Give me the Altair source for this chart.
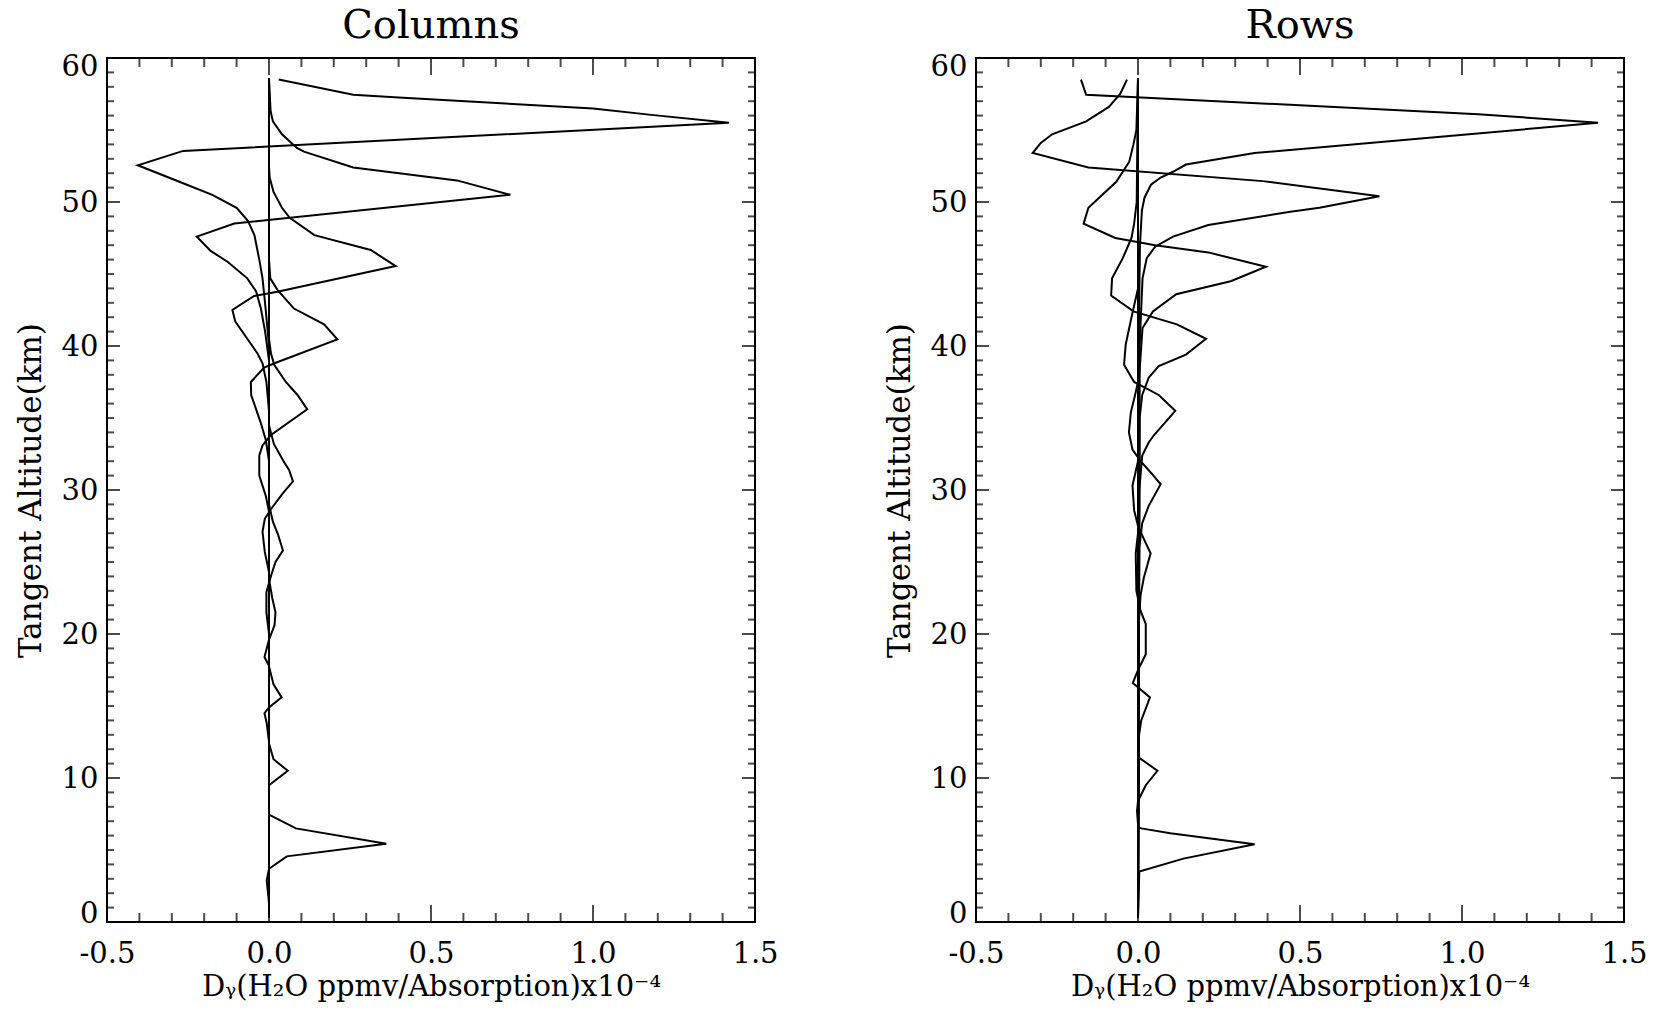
import altair as alt
import pandas as pd

FONT = "DejaVu Serif"

# ---------------- data: (tangent altitude km, D_y value x1e-4) ----------------
# Columns panel
COL_A = [(58.5, 0.03), (57.45, 0.26), (57.25, 0.40), (56.5, 1.00), (56.05, 1.18), (55.5, 1.42),
         (53.55, -0.265), (52.55, -0.405), (51.3, -0.265), (50.5, -0.175), (49.6, -0.10),
         (48.7, -0.065), (47.7, -0.045), (46.0, -0.03), (44.7, -0.02), (42.5, -0.01),
         (40.0, 0.0), (0.3, 0.0)]
COL_B = [(58.6, 0.0), (56.3, 0.005), (55.6, 0.012), (54.7, 0.04), (53.75, 0.086), (53.5, 0.108),
         (52.4, 0.26), (51.5, 0.58), (50.5, 0.745), (48.5, -0.107), (47.6, -0.223), (46.6, -0.18),
         (45.85, -0.128), (44.7, -0.067), (43.8, -0.04), (42.6, -0.025), (41.0, -0.012),
         (39.0, 0.0), (0.3, 0.0)]
COL_C = [(58.6, 0.0), (52.5, 0.0), (51.7, 0.002), (50.7, 0.014), (49.6, 0.04), (48.9, 0.064),
         (47.7, 0.14), (46.67, 0.314), (45.55, 0.391), (43.77, 0.026), (43.47, -0.046),
         (42.5, -0.113), (41.7, -0.104), (40.5, -0.067), (39.5, -0.036), (38.8, -0.02),
         (37.5, -0.008), (35.5, 0.0), (0.3, 0.0)]
COL_D = [(58.6, 0.0), (46.0, 0.0), (44.7, 0.004), (43.9, 0.026), (42.6, 0.077), (41.5, 0.17),
         (40.46, 0.211), (38.84, 0.021), (38.5, -0.015), (37.5, -0.056), (36.6, -0.055),
         (34.7, -0.026), (33.5, -0.01), (32.0, 0.0), (0.3, 0.0)]
COL_E = [(58.6, 0.0), (40.5, 0.0), (39.5, 0.006), (38.7, 0.016), (37.5, 0.052), (36.6, 0.088),
         (35.6, 0.118), (33.8, 0.005), (33.1, -0.02), (32.4, -0.03), (31.0, -0.03),
         (29.6, -0.01), (28.5, 0.0), (0.3, 0.0)]
COL_F = [(58.6, 0.0), (34.5, 0.0), (33.2, 0.015), (32.0, 0.045), (31.4, 0.062), (30.6, 0.074),
         (29.7, 0.04), (28.7, 0.007), (28.0, -0.013), (27.1, -0.02), (25.7, -0.013),
         (24.3, 0.0), (0.3, 0.0)]
COL_G = [(58.6, 0.0), (29.0, 0.0), (27.8, 0.012), (26.9, 0.028), (25.8, 0.043), (25.0, 0.02),
         (24.1, 0.007), (22.9, -0.008), (21.5, -0.008), (20.0, 0.0), (0.3, 0.0)]
COL_H = [(58.6, 0.0), (23.8, 0.0), (22.5, 0.01), (21.5, 0.02), (20.6, 0.017), (19.6, 0.0),
         (18.4, -0.014), (17.8, 0.0), (0.3, 0.0)]
COL_I = [(58.6, 0.0), (17.75, 0.0), (16.5, 0.014), (15.6, 0.039), (14.9, 0.0), (14.5, -0.014),
         (13.8, -0.007), (12.5, 0.0), (0.3, 0.0)]
COL_J = [(58.6, 0.0), (12.4, 0.0), (11.3, 0.014), (10.5, 0.058), (9.5, 0.0), (0.3, 0.0)]
COL_K = [(58.6, 0.0), (7.45, 0.0), (6.5, 0.083), (5.44, 0.362), (4.56, 0.055), (3.7, 0.0),
         (2.9, -0.007), (1.3, 0.0), (0.3, 0.0)]

# Rows panel
ROW_A = [(58.5, -0.176), (57.45, -0.16), (56.1, 1.05), (55.5, 1.42), (53.4, 0.36), (52.6, 0.148),
         (52.1, 0.108), (51.7, 0.07), (51.2, 0.04), (50.3, 0.02), (49.4, 0.012), (47.0, 0.006),
         (40.0, 0.002), (0.3, 0.0)]
ROW_B = [(58.5, -0.034), (57.5, -0.055), (56.6, -0.09), (55.6, -0.16), (54.7, -0.265),
         (54.1, -0.30), (53.4, -0.325), (52.4, -0.153), (51.45, 0.385), (50.4, 0.745),
         (49.6, 0.56), (49.3, 0.465), (48.4, 0.217), (47.6, 0.108), (46.9, 0.053), (46.1, 0.027),
         (44.7, 0.014), (40.0, 0.005), (0.3, 0.0)]
ROW_C = [(58.6, 0.0), (55.0, -0.005), (54.0, -0.014), (52.8, -0.027), (52.1, -0.047),
         (51.4, -0.067), (50.3, -0.12), (49.6, -0.153), (48.5, -0.168), (47.5, -0.07),
         (47.0, 0.053), (46.5, 0.217), (45.5, 0.395), (44.5, 0.286), (43.6, 0.118), (42.4, 0.046),
         (41.25, 0.014), (38.0, 0.004), (0.3, 0.0)]
ROW_D = [(58.6, 0.0), (50.0, -0.004), (48.5, -0.012), (47.5, -0.02), (46.1, -0.047),
         (44.7, -0.08), (43.5, -0.083), (42.4, -0.014), (41.5, 0.12), (40.5, 0.21), (39.4, 0.148),
         (38.6, 0.064), (37.8, 0.033), (36.6, 0.013), (35.0, 0.005), (0.3, 0.0)]
ROW_E = [(58.6, 0.0), (44.0, 0.0), (42.0, -0.02), (40.1, -0.038), (38.7, -0.043), (37.5, -0.012),
         (36.6, 0.064), (35.5, 0.115), (33.8, 0.049), (33.3, 0.033), (32.4, 0.013), (30.0, 0.004),
         (0.3, 0.0)]
ROW_F = [(58.6, 0.0), (37.5, 0.0), (36.5, -0.01), (35.4, -0.022), (34.0, -0.028), (32.8, -0.017),
         (32.0, 0.008), (31.2, 0.04), (30.4, 0.07), (28.9, 0.033), (27.7, 0.013), (26.0, 0.004),
         (0.3, 0.0)]
ROW_G = [(58.6, 0.0), (32.0, 0.0), (30.3, -0.017), (28.6, -0.012), (27.5, 0.0), (26.5, 0.02),
         (25.6, 0.039), (23.9, 0.018), (22.7, 0.008), (21.0, 0.003), (0.3, 0.0)]
ROW_H = [(58.6, 0.0), (27.0, 0.0), (25.6, -0.007), (23.0, -0.005), (21.6, 0.008), (20.7, 0.024),
         (18.6, 0.024), (17.5, 0.0), (0.3, 0.0)]
ROW_I = [(58.6, 0.0), (17.5, 0.0), (16.6, -0.016), (15.6, 0.037), (14.0, 0.01), (12.5, 0.0),
         (0.3, 0.0)]
ROW_J = [(58.6, 0.0), (12.5, 0.0), (11.4, 0.004), (10.5, 0.06), (9.5, 0.024), (8.4, 0.0),
         (7.7, -0.003), (6.8, 0.0), (0.3, 0.0)]
ROW_K = [(58.6, 0.0), (6.6, 0.0), (6.5, 0.01), (6.16, 0.1), (5.4, 0.36), (4.4, 0.14),
         (3.5, 0.004), (0.3, 0.0)]

COLUMN_CURVES = {"A": COL_A, "B": COL_B, "C": COL_C, "D": COL_D, "E": COL_E, "F": COL_F,
                 "G": COL_G, "H": COL_H, "I": COL_I, "J": COL_J, "K": COL_K}
ROW_CURVES = {"A": ROW_A, "B": ROW_B, "C": ROW_C, "D": ROW_D, "E": ROW_E, "F": ROW_F,
              "G": ROW_G, "H": ROW_H, "I": ROW_I, "J": ROW_J, "K": ROW_K}

PANEL_TITLES = ["Columns", "Rows"]
X_TITLE = "D\u1d67(H\u2082O ppmv/Absorption)x10\u207b\u2074"
Y_TITLE = "Tangent Altitude(km)"

X_DOMAIN = [-0.5, 1.5]
Y_DOMAIN = [0, 60]
X_MAJOR = [-0.5, 0.0, 0.5, 1.0, 1.5]
X_MINOR = [-0.4, -0.3, -0.2, -0.1, 0.1, 0.2, 0.3, 0.4, 0.6, 0.7, 0.8, 0.9, 1.1, 1.2, 1.3, 1.4]
Y_MAJOR = [0, 10, 20, 30, 40, 50, 60]
Y_MINOR = [v for v in range(1, 60) if v % 10 != 0]

# ---------------- styles ----------------
W, H = 648, 864
LW = 2
X_TICK_MAJ, X_TICK_MIN = 17, 9     # vertical ticks on bottom/top
Y_TICK_MAJ, Y_TICK_MIN = 13, 7     # horizontal ticks on left/right

X_AXIS = alt.Axis(values=X_MAJOR, title=X_TITLE, ticks=False, domain=False, grid=False,
                  labelExpr="datum.value < 0 ? '-' + format(-datum.value, '.1f') : format(datum.value, '.1f')",
                  labelFlush=False,
                  labelFont=FONT, labelFontSize=29, labelColor="black", labelPadding=17,
                  titleFont=FONT, titleFontSize=29, titleFontWeight="normal", titleColor="black",
                  titlePadding=4)
Y_AXIS = alt.Axis(values=Y_MAJOR, format="d", title=Y_TITLE, ticks=False, domain=False, grid=False,
                  labelFlush=True, labelFlushOffset=6,
                  labelFont=FONT, labelFontSize=29, labelColor="black", labelPadding=9,
                  titleFont=FONT, titleFontSize=31, titleFontWeight="normal", titleColor="black",
                  titlePadding=14)


def curves_frame(curves):
    recs = []
    for name, pts in curves.items():
        for i, (a, v) in enumerate(pts):
            recs.append({"curve": name, "idx": i, "alt": a, "val": v})
    return pd.DataFrame(recs)


def xs():
    return alt.Scale(domain=X_DOMAIN, nice=False, zero=False)


def ys():
    return alt.Scale(domain=Y_DOMAIN, nice=False, zero=False)


def xticks(values, at, size, sign):
    return alt.Chart(pd.DataFrame({"v": values})).mark_tick(
        orient="vertical", size=size, thickness=LW, color="black", yOffset=sign * size / 2
    ).encode(
        x=alt.X("v:Q", scale=xs(), axis=X_AXIS),
        y=alt.Y(datum=at, type="quantitative", scale=ys(), axis=Y_AXIS),
    )


def yticks(values, at, size, sign):
    return alt.Chart(pd.DataFrame({"v": values})).mark_tick(
        orient="horizontal", size=size, thickness=LW, color="black", xOffset=sign * size / 2
    ).encode(
        y=alt.Y("v:Q", scale=ys(), axis=Y_AXIS),
        x=alt.X(datum=at, type="quantitative", scale=xs(), axis=X_AXIS),
    )


def panel(title, curves):
    df = curves_frame(curves)
    lines = alt.Chart(df).mark_line(color="black", strokeWidth=LW, strokeJoin="miter").encode(
        x=alt.X("val:Q", scale=xs(), axis=X_AXIS),
        y=alt.Y("alt:Q", scale=ys(), axis=Y_AXIS),
        detail="curve:N",
        order="idx:Q",
    )
    layers = [
        lines,
        xticks(X_MAJOR, Y_DOMAIN[0], X_TICK_MAJ, -1),
        xticks(X_MINOR, Y_DOMAIN[0], X_TICK_MIN, -1),
        xticks(X_MAJOR, Y_DOMAIN[1], X_TICK_MAJ, 1),
        xticks(X_MINOR, Y_DOMAIN[1], X_TICK_MIN, 1),
        yticks(Y_MAJOR, X_DOMAIN[0], Y_TICK_MAJ, 1),
        yticks(Y_MINOR, X_DOMAIN[0], Y_TICK_MIN, 1),
        yticks(Y_MAJOR, X_DOMAIN[1], Y_TICK_MAJ, -1),
        yticks(Y_MINOR, X_DOMAIN[1], Y_TICK_MIN, -1),
    ]
    return alt.layer(*layers).properties(
        width=W, height=H,
        title=alt.TitleParams(title, font=FONT, fontSize=40, fontWeight="normal", color="black",
                              anchor="middle", offset=6),
    )


chart = alt.hconcat(panel(PANEL_TITLES[0], COLUMN_CURVES), panel(PANEL_TITLES[1], ROW_CURVES),
                    spacing=103).properties(
    padding={"left": 14, "top": 5, "right": 5, "bottom": 5},
    background="white",
).configure_view(
    stroke="black", strokeWidth=LW
)

chart.save("out.html", embed_options={"renderer": "svg", "actions": False})
